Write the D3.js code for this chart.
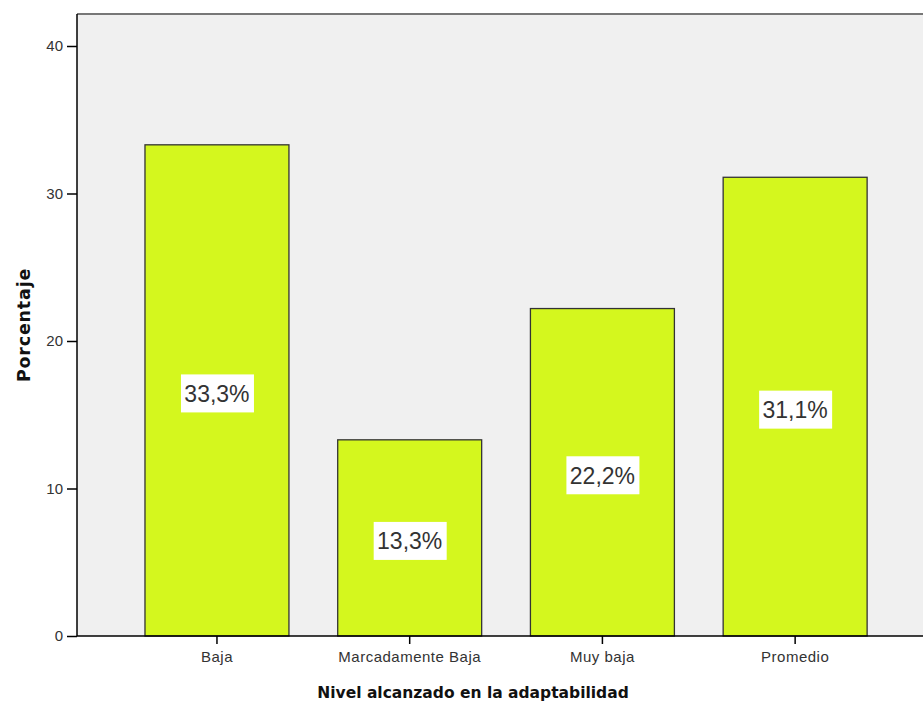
<!DOCTYPE html>
<html><head><meta charset="utf-8">
<script src="https://cdn.jsdelivr.net/npm/d3@7"></script>
<style>body{margin:0;background:#fff}svg{display:block}</style>
</head><body>
<svg id="c" width="923" height="706"></svg>
<script>
const categories = ["Baja", "Marcadamente Baja", "Muy baja", "Promedio"];
const values = [33.3, 13.3, 22.2, 31.1];
const valueLabels = ["33,3%", "13,3%", "22,2%", "31,1%"];
const yTicks = [0, 10, 20, 30, 40];

const svg = d3.select("#c");
const pLeft = 77, pTop = 14, pBottom = 636, pRight = 923;

svg.append("rect").attr("x", pLeft).attr("y", pTop).attr("width", pRight - pLeft).attr("height", pBottom - pTop).attr("fill", "#f0f0f0");
svg.append("line").attr("x1", pLeft).attr("x2", pRight).attr("y1", pTop).attr("y2", pTop).attr("stroke", "#777").attr("stroke-width", 2);

const y = d3.scaleLinear().domain([0, 40]).range([pBottom, 46]);
const x = d3.scaleBand().domain(categories).range([120.6, 891.5]).paddingInner(0.253).paddingOuter(0.1265);

svg.selectAll("rect.bar").data(values).join("rect").attr("class", "bar")
  .attr("x", (d, i) => x(categories[i])).attr("width", x.bandwidth())
  .attr("y", d => y(d)).attr("height", d => pBottom - y(d))
  .attr("fill", "#d4f71e").attr("stroke", "#333").attr("stroke-width", 1.3);

const lab = svg.selectAll("g.lab").data(values).join("g").attr("class", "lab")
  .attr("transform", (d, i) => `translate(${x(categories[i]) + x.bandwidth() / 2},${y(d / 2) + 3})`);
lab.append("rect").attr("x", -36).attr("y", -19).attr("width", 73).attr("height", 38).attr("fill", "#fff");
lab.append("text").attr("text-anchor", "middle").attr("dy", "0.36em")
  .attr("font-family", "Liberation Sans, Arial, sans-serif").attr("font-size", 23).attr("fill", "#333")
  .text((d, i) => valueLabels[i]);

const yAxis = svg.append("g").attr("transform", `translate(${pLeft},0)`)
  .call(d3.axisLeft(y).tickValues(yTicks).tickSize(10).tickPadding(4).tickFormat(d3.format("d")));
yAxis.select(".domain").remove();
yAxis.append("line").attr("x1", 0).attr("x2", 0).attr("y1", pTop).attr("y2", pBottom).attr("stroke", "#000").attr("stroke-width", 1.5);
yAxis.selectAll(".tick line").attr("stroke", "#000").attr("stroke-width", 1.5);
yAxis.selectAll(".tick text").attr("font-family", "Liberation Sans, Arial, sans-serif").attr("font-size", 15).attr("fill", "#333");

const xAxis = svg.append("g").attr("transform", `translate(0,${pBottom})`)
  .call(d3.axisBottom(x).tickSize(8).tickPadding(7));
xAxis.select(".domain").remove();
xAxis.append("line").attr("x1", pLeft).attr("x2", pRight).attr("y1", 0).attr("y2", 0).attr("stroke", "#000").attr("stroke-width", 1.5);
xAxis.selectAll(".tick line").attr("stroke", "#000").attr("stroke-width", 1.5);
xAxis.selectAll(".tick text").attr("font-family", "Liberation Sans, Arial, sans-serif").attr("font-size", 15).attr("letter-spacing", 0.5).attr("fill", "#333");

svg.append("text").attr("x", 473).attr("y", 698).attr("text-anchor", "middle")
  .attr("font-family", "DejaVu Sans, Verdana, sans-serif").attr("font-weight", "bold").attr("font-size", 15.5).attr("fill", "#111")
  .text("Nivel alcanzado en la adaptabilidad");
svg.append("text").attr("transform", "translate(30,325) rotate(-90)").attr("text-anchor", "middle")
  .attr("font-family", "DejaVu Sans, Verdana, sans-serif").attr("font-weight", "bold").attr("font-size", 17.5).attr("letter-spacing", 0.8).attr("fill", "#111")
  .text("Porcentaje");
</script>
</body></html>
